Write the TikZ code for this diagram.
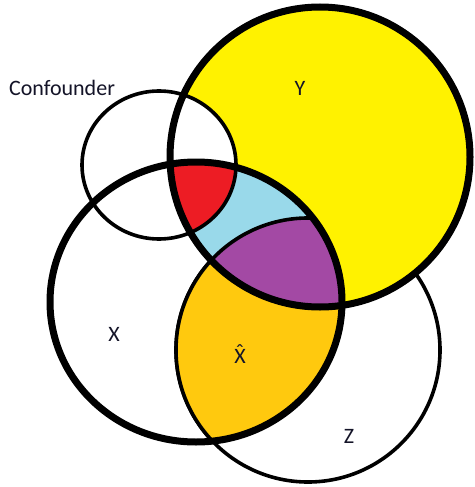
\documentclass[tikz,border=0pt]{standalone}
\usepackage{fontspec}
\setmainfont{Carlito}
\definecolor{pyellow}{RGB}{255,242,0}
\definecolor{pred}{RGB}{237,28,36}
\definecolor{pblue}{RGB}{153,217,234}
\definecolor{ppurple}{RGB}{163,73,164}
\definecolor{porange}{RGB}{255,201,14}
\definecolor{ptext}{RGB}{20,20,40}
\tikzset{
  thinline/.style={draw=black,line width=3.6pt},
  thickline/.style={draw=black,line width=7pt},
  lbl/.style={font=\fontsize{22}{26}\selectfont,text=ptext,inner sep=0pt}
}
\begin{document}
\begin{tikzpicture}[x=1pt,y=-1pt]
\useasboundingbox (0,0) rectangle (474,487);
\fill[white] (0,0) rectangle (474,487);
% Z outline (later hidden by yellow inside Y)
\draw[thinline] (308,350) circle [radius=132];
% Y fill
\fill[pyellow] (320,157) circle [radius=150];
% Confounder inside Y: white
\begin{scope}
  \clip (320,157) circle [radius=150];
  \fill[white] (159,165) ellipse [x radius=77, y radius=74];
\end{scope}
% regions inside X
\begin{scope}
  \clip (196,302) ellipse [x radius=146, y radius=140];
  \fill[white] (159,165) ellipse [x radius=77, y radius=74];
  \fill[porange] (308,350) circle [radius=132];
  \fill[pblue] (320,157) circle [radius=150];
  \begin{scope}
    \clip (320,157) circle [radius=150];
    \fill[ppurple] (308,350) circle [radius=132];
    \fill[pred] (159,165) ellipse [x radius=77, y radius=74];
  \end{scope}
  \draw[thinline] (308,350) circle [radius=132];
\end{scope}
% outlines
\draw[thinline] (159,165) ellipse [x radius=77, y radius=74];
\draw[thickline] (196,302) ellipse [x radius=146, y radius=140];
\draw[thickline] (320,157) circle [radius=150];
% labels
\node[lbl] (conf) at (62,88) {Confounder};
\node[lbl] (ylab) at (300,88) {Y};
\node[lbl] (xlab) at (114,334) {X};
\node[lbl] (xhat) at (240,354) {\accent"02C6 X};
\node[lbl] (zlab) at (349,436) {Z};
\end{tikzpicture}
\end{document}
